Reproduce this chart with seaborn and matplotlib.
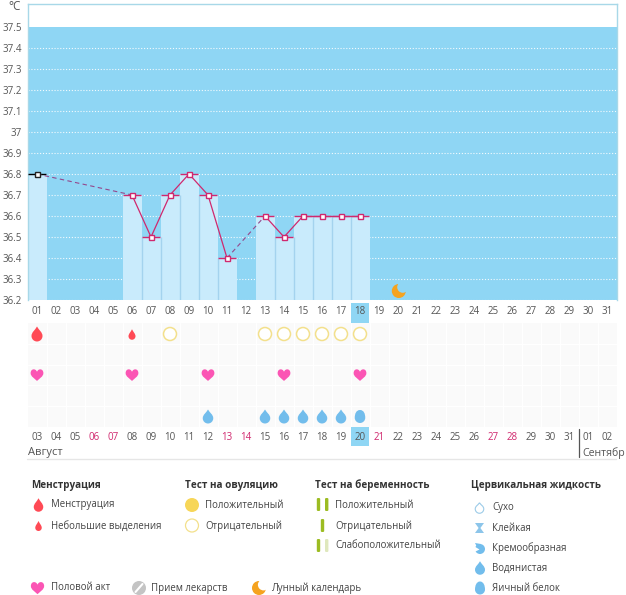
import numpy as np
import pandas as pd
import seaborn as sns
import matplotlib
matplotlib.use("Agg")
import matplotlib.pyplot as plt
from matplotlib.patches import Circle, Polygon, Rectangle, PathPatch, FancyBboxPatch
from matplotlib.path import Path

sns.set_theme(style="white")
plt.rcParams['font.family'] = ['Open Sans', 'DejaVu Sans']

# ---- data ----
cycle_days = list(range(1, 32))
day_labels = ["%02d" % d for d in cycle_days]
date_labels = ["03","04","05","06","07","08","09","10","11","12","13","14","15","16","17","18","19","20","21","22","23","24","25","26","27","28","29","30","31","01","02"]
weekend_labels = ["06", "07", "13", "14", "21", "27", "28"]
temp_days = [1, 6, 7, 8, 9, 10, 11, 13, 14, 15, 16, 17, 18]
temp_values = [36.8, 36.7, 36.5, 36.7, 36.8, 36.7, 36.4, 36.6, 36.5, 36.6, 36.6, 36.6, 36.6]
y_ticks = [36.2, 36.3, 36.4, 36.5, 36.6, 36.7, 36.8, 36.9, 37.0, 37.1, 37.2, 37.3, 37.4, 37.5]
y_labels = ["36.2","36.3","36.4","36.5","36.6","36.7","36.8","36.9","37","37.1","37.2","37.3","37.4","37.5"]
menses_heavy = [1]
menses_light = [6]
ovulation_negative = [8, 13, 14, 15, 16, 17, 18]
intercourse = [1, 6, 10, 14, 18]
watery = [10, 13, 14, 15, 16, 17]
eggwhite = [18]
moon_days = [20]
today = 18

W, H = 626, 595
BLUE = "#8fd6f4"
PALE = "#c9ebfc"
SEP = "#a4d3ee"
LINE = "#d0286e"
DASH = "#94488c"
GREY = "#555555"
RED = "#ff4a55"
PINK = "#fb55b4"
DROP = "#72bdec"
YEL = "#f7d658"
YELP = "#f3e08c"
GREEN = "#9cbc22"
ORANGE = "#f5a31f"

fig = plt.figure(figsize=(W / 100, H / 100), dpi=100, facecolor="white")

def axpx(x0, y0, x1, y1):
    return fig.add_axes([x0 / W, 1 - y1 / H, (x1 - x0) / W, (y1 - y0) / H])

ov = fig.add_axes([0, 0, 1, 1], zorder=5)
ov.set_xlim(0, W); ov.set_ylim(H, 0); ov.axis("off"); ov.patch.set_alpha(0)

# --- temperature chart
AX_L, AX_R, AX_T, AX_B = 27.5, 616.5, 3.5, 300.0
PX_PER_DEG = 210.0
ax = axpx(AX_L, AX_T, AX_R, AX_B)
ax.set_facecolor(BLUE)
ax.set_xlim(0.5, 31.5)
ax.set_ylim(36.2, 36.2 + (AX_B - AX_T) / PX_PER_DEG)
ax.axhspan(37.5, ax.get_ylim()[1], color="white", zorder=1, lw=0)
ax.spines["bottom"].set_visible(False)
for k in ["left", "top", "right"]:
    ax.spines[k].set_visible(True)
    ax.spines[k].set_color("#a8d8e8"); ax.spines[k].set_linewidth(1)
for t in y_ticks[:-1]:
    ax.axhline(t, color="white", lw=0.8, ls=(0, (1, 1.6)), alpha=0.9, zorder=1.5)

df = pd.DataFrame({"day": temp_days, "temp": temp_values})
ax.bar(df.day, df.temp - 36.2, bottom=36.2, width=1.0, color=PALE, zorder=2, linewidth=0)
for (d0, t0), (d1, t1) in zip(zip(temp_days, temp_values), zip(temp_days[1:], temp_values[1:])):
    if d1 - d0 == 1:
        ax.vlines(d0 + 0.5, 36.2, min(t0, t1), color=SEP, lw=1, zorder=2.5)
ax.hlines(df.temp[1:], df.day[1:] - 0.48, df.day[1:] + 0.48, color=LINE, lw=1, zorder=3)
ax.hlines(df.temp[:1], df.day[:1] - 0.48, df.day[:1] + 0.48, color="black", lw=1, zorder=3.1)

for (d0, t0), (d1, t1) in zip(zip(temp_days, temp_values), zip(temp_days[1:], temp_values[1:])):
    solid = d1 - d0 == 1
    sns.lineplot(x=[d0, d1], y=[t0, t1], ax=ax, color=LINE if solid else DASH, lw=0.9 if solid else 0.8, zorder=4,
                 linestyle="-" if solid else (0, (4, 3)), legend=False, errorbar=None, estimator=None)
ax.plot(temp_days[1:], temp_values[1:], ls="", marker="s", ms=3.6, mfc="white", mec=LINE, mew=1, zorder=5)
ax.plot(temp_days[:1], temp_values[:1], ls="", marker="s", ms=3.6, mfc="white", mec="#222222", mew=1, zorder=5)
ax.set_xticks([]); ax.set_yticks([])
ax.grid(False)

def xpx(day):
    return AX_L + (day - 0.5) * 19.0

def ypx(v):
    return AX_B - (v - 36.2) * PX_PER_DEG

ov.text(20.5, 7, "°C", ha="right", va="center", fontsize=8.5, color=GREY)
for t, l in zip(y_ticks, y_labels):
    ov.text(22, ypx(t) + 1.8, l, ha="right", va="center", fontsize=7, color=GREY)

# upper day labels
ov.add_patch(Rectangle((xpx(today) - 9.5, 303), 18.5, 19.5, color=BLUE, lw=0))
for d, l in zip(cycle_days, day_labels):
    ov.text(xpx(d), 312, l, ha="center", va="center", fontsize=7, color=GREY)

# grid of symbol rows
grid = axpx(27.5, 323, 616.5, 427)
grid.set_xlim(0.5, 31.5); grid.set_ylim(5.5, 0.5)
grid.set_facecolor("#fafafa")
for s in grid.spines.values():
    s.set_visible(False)
grid.set_xticks([]); grid.set_yticks([])
grid.grid(False)
for d in np.arange(1.5, 31.5):
    grid.axvline(d, color="white", lw=1)
for r in np.arange(1.5, 5.5):
    grid.axhline(r, color="white", lw=1)

def drop(cx, cy, w, h, color, fill=True, ec=None, lw=1):
    k = 0.56
    r = w / 2
    bc = cy + h / 2 - r
    top = cy - h / 2
    verts = [(cx, top),
             (cx + r * 0.35, top + (bc - top) * 0.38), (cx + r, bc - r * 0.7), (cx + r, bc),
             (cx + r, bc + r * k), (cx + r * k, bc + r), (cx, bc + r),
             (cx - r * k, bc + r), (cx - r, bc + r * k), (cx - r, bc),
             (cx - r, bc - r * 0.7), (cx - r * 0.35, top + (bc - top) * 0.38), (cx, top)]
    codes = [Path.MOVETO] + [Path.CURVE4] * 12
    ov.add_patch(PathPatch(Path(verts, codes), fc=color if fill else "white", ec=ec or "none", lw=lw, zorder=6))

def egg(cx, cy, w, h, color):
    r = w / 2
    top = cy - h / 2
    bc = cy + h / 2 - r
    k = 0.56
    verts = [(cx, top),
             (cx + r * 0.7, top), (cx + r, bc - r * 0.8), (cx + r, bc),
             (cx + r, bc + r * k), (cx + r * k, bc + r), (cx, bc + r),
             (cx - r * k, bc + r), (cx - r, bc + r * k), (cx - r, bc),
             (cx - r, bc - r * 0.8), (cx - r * 0.7, top), (cx, top)]
    codes = [Path.MOVETO] + [Path.CURVE4] * 12
    ov.add_patch(PathPatch(Path(verts, codes), fc=color, ec="none", zorder=6))

def heart(cx, cy, w, color):
    s = w / 2
    verts = [(cx, cy + 0.95 * s),
             (cx - 0.4 * s, cy + 0.55 * s), (cx - 1.02 * s, cy + 0.25 * s), (cx - 1.02 * s, cy - 0.3 * s),
             (cx - 1.02 * s, cy - 1.05 * s), (cx - 0.2 * s, cy - 1.1 * s), (cx, cy - 0.5 * s),
             (cx + 0.2 * s, cy - 1.1 * s), (cx + 1.02 * s, cy - 1.05 * s), (cx + 1.02 * s, cy - 0.3 * s),
             (cx + 1.02 * s, cy + 0.25 * s), (cx + 0.4 * s, cy + 0.55 * s), (cx, cy + 0.95 * s)]
    codes = [Path.MOVETO] + [Path.CURVE4] * 12
    ov.add_patch(PathPatch(Path(verts, codes), fc=color, ec="none", zorder=6))

def moon(cx, cy, r, bite_dx, bite_dy, bite_r, bg):
    ov.add_patch(Circle((cx, cy), r, fc=ORANGE, ec="none", zorder=6))
    ov.add_patch(Circle((cx + bite_dx, cy + bite_dy), bite_r, fc=bg, ec="none", zorder=6.1))

def bar(x, y, w, h, color):
    ov.add_patch(FancyBboxPatch((x + 0.6, y + 0.6), w - 1.2, h - 1.2, boxstyle="round,pad=0.6,rounding_size=1.2",
                                fc=color, ec="none", zorder=6))

for d in menses_heavy:
    drop(xpx(d), 334, 11, 15, RED)
for d in menses_light:
    drop(xpx(d), 334.5, 7, 10.5, RED)
for d in ovulation_negative:
    ov.add_patch(Circle((xpx(d), 334), 6.5, fc="white", ec=YELP, lw=1.1, zorder=6))
for d in intercourse:
    heart(xpx(d), 375, 12.5, PINK)
for d in watery:
    drop(xpx(d), 416.5, 10.5, 14, DROP)
for d in eggwhite:
    egg(xpx(d), 416.5, 10.5, 13, DROP)
for d in moon_days:
    moon(xpx(d) + 0.8, 291, 7, 4, -3.8, 5.6, BLUE)

# lower date labels
ov.add_patch(Rectangle((xpx(today) - 9.5, 427), 18.5, 19, color=BLUE, lw=0))
for d, l in zip(cycle_days, date_labels):
    ov.text(xpx(d), 437, l, ha="center", va="center", fontsize=7, color="#d0286e" if l in weekend_labels else GREY)

ov.text(28, 453, "Август", ha="left", va="center", fontsize=8, color=GREY)
ov.text(582.5, 453, "Сентябр", ha="left", va="center", fontsize=7.6, color=GREY)
ov.plot([27, 616], [458.5, 458.5], color="#e6e6e6", lw=1)
ov.plot([578.5, 578.5], [429, 457], color="#555555", lw=0.9)

# legend
HEAD = dict(fontsize=7.1, fontweight="bold", color="#333333", ha="left", va="center")
ITEM = dict(fontsize=6.9, color="#444444", ha="left", va="center")

ov.text(31, 485.5, "Менструация", **HEAD)
drop(38.5, 505, 9.5, 13.5, RED); ov.text(51, 505, "Менструация", **ITEM)
drop(38.5, 526, 6.5, 10, RED); ov.text(51, 526, "Небольшие выделения", **ITEM)

ov.text(185, 485.5, "Тест на овуляцию", **HEAD)
ov.add_patch(Circle((192, 505), 7, fc=YEL, ec="none"))
ov.add_patch(Circle((192, 525.5), 6.5, fc="white", ec=YELP, lw=0.9))
ov.text(205, 505, "Положительный", **ITEM)
ov.text(205, 526, "Отрицательный", **ITEM)

ov.text(315, 485.5, "Тест на беременность", **HEAD)
bar(316.8, 498, 3.4, 13, GREEN); bar(325, 498, 3.4, 13, GREEN)
bar(320.8, 519, 3.4, 13, GREEN)
bar(316.8, 539, 3.4, 13, GREEN); bar(325, 539, 3.4, 13, "#dfe8bd")
ov.text(335, 505, "Положительный", **ITEM)
ov.text(335, 526, "Отрицательный", **ITEM)
ov.text(335, 546, "Слабоположительный", **ITEM)

ov.text(471, 485.5, "Цервикальная жидкость", **HEAD)
drop(479.5, 508, 8.5, 10.5, "white", ec="#9ccbe8", lw=0.8); ov.text(492, 507.5, "Сухо", **ITEM)
ov.add_patch(Polygon([(475, 523), (484, 523), (480.4, 528), (484, 533), (475, 533), (478.6, 528)], fc="#8cc5ea", ec="none"))
ov.text(492, 528.5, "Клейкая", **ITEM)
ov.add_patch(Circle((480, 549), 5, fc=DROP, ec="none", zorder=6))
ov.add_patch(Polygon([(475, 543), (481, 544), (478, 549)], fc=DROP, ec="none", zorder=6))
ov.add_patch(Polygon([(474.5, 546.5), (479.5, 549.5), (474.5, 552)], fc="white", ec="none", zorder=6.1))
ov.text(492, 548.5, "Кремообразная", **ITEM)
drop(480, 568, 10, 13.5, DROP); ov.text(492, 568.5, "Водянистая", **ITEM)
egg(480, 588, 10, 13, DROP); ov.text(492, 588.5, "Яичный белок", **ITEM)

heart(37.5, 588, 13, PINK); ov.text(51, 588, "Половой акт", **ITEM)
ov.add_patch(Circle((139, 588), 7, fc="#c4c4c4", ec="none"))
ov.plot([135.5, 142.5], [592, 584], color="white", lw=1.5)
ov.text(151, 588, "Прием лекарств", **ITEM)
moon(259, 588, 7, 4.5, -3.2, 5.6, "white")
ov.text(271, 588, "Лунный календарь", **ITEM)

fig.savefig("out.png", dpi=100)
